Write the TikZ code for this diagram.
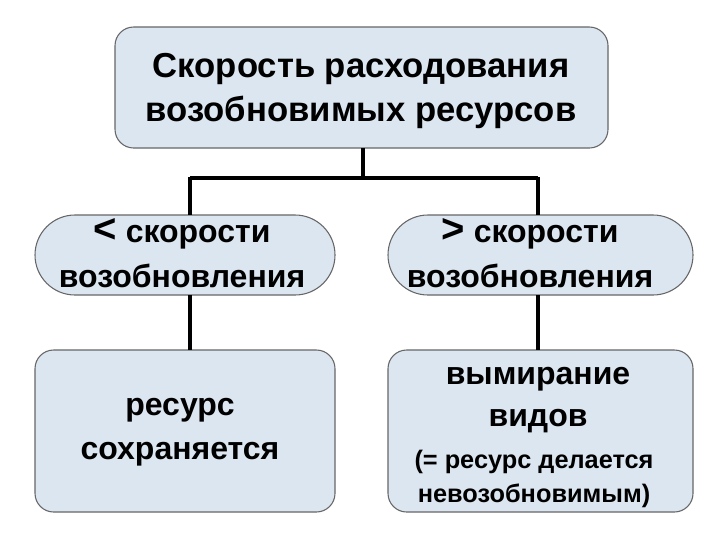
\documentclass[tikz,border=0pt]{standalone}
\usepackage{fontspec}
\setmainfont{Liberation Sans}
\begin{document}
\begin{tikzpicture}[x=0.75pt,y=-0.75pt,
  box/.style={draw=black!60,line width=0.8pt,fill=boxfill,rounded corners=14pt},
  conn/.style={line width=2.4pt,black}]
\definecolor{boxfill}{HTML}{DCE6F0}
\useasboundingbox (0,0) rectangle (720,540);
\fill[white] (0,0) rectangle (720,540);
\draw[box] (115,27) rectangle (608,148);
\node[align=center,font=\bfseries\fontsize{26}{33}\selectfont] (top) at (361,91) {Скорость расходования\\возобновимых ресурсов};
\draw[box,rounded corners=30pt] (35,215) rectangle (335,295);
\draw[box,rounded corners=30pt] (388,215) rectangle (693,295);
\node[font=\bfseries\fontsize{24}{28}\selectfont] (l1) at (182,234) {{\fontsize{30}{30}\selectfont<} скорости};
\node[font=\bfseries\fontsize{24}{28}\selectfont] (l2) at (182,276) {возобновления};
\node[font=\bfseries\fontsize{24}{28}\selectfont] (r1) at (530,234) {{\fontsize{30}{30}\selectfont>} скорости};
\node[font=\bfseries\fontsize{24}{28}\selectfont] (r2) at (530,276) {возобновления};
\draw[box] (35,350) rectangle (335,512);
\draw[box] (388,350) rectangle (693,512);
\node[align=center,font=\bfseries\fontsize{24}{33}\selectfont] (bl) at (180,432) {ресурс\\сохраняется};
\node[align=center,font=\bfseries\fontsize{24}{31}\selectfont] (br1) at (538,400) {вымирание\\видов};
\node[align=center,font=\bfseries\fontsize{19}{26}\selectfont] (br2) at (534,479) {(= ресурс делается\\невозобновимым)};
\coordinate (t0) at (363,148);
\coordinate (t1) at (363,178);
\coordinate (a) at (190,178);
\coordinate (b) at (538,178);
\draw[conn] (t0) -- (t1);
\draw[conn] (a) -- (b);
\draw[conn] (190,177) -- (190,215);
\draw[conn] (538,177) -- (538,215);
\draw[conn] (190,295) -- (190,350);
\draw[conn] (538,295) -- (538,350);
\end{tikzpicture}
\end{document}
